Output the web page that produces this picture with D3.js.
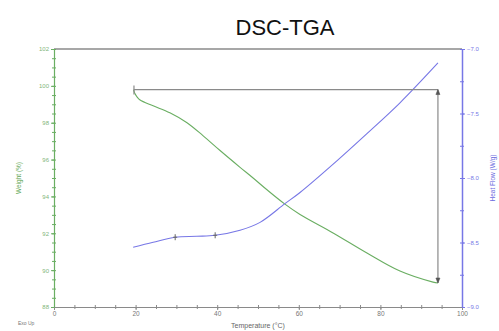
<!DOCTYPE html>
<html>
<head>
<meta charset="utf-8">
<script src="https://cdn.jsdelivr.net/npm/d3@7"></script>
<style>
  body { margin: 0; background: #fff; }
  svg { font-family: "Liberation Sans", Arial, sans-serif; }
</style>
</head>
<body>
<div id="chart"></div>
<script>
// weight curve (TGA)
var weightTemp = [19.5, 19.8, 20.3, 21.1, 24.3, 28.4, 32.6, 36.5, 40.7, 45.6, 48.8, 52.2, 56.6, 60.3, 68.4, 76.7, 84.8, 92.9, 94.1];
var weightVal  = [99.8, 99.6, 99.42, 99.23, 98.92, 98.54, 98.0, 97.3, 96.49, 95.58, 95.0, 94.36, 93.58, 93.02, 92.02, 90.93, 89.95, 89.35, 89.3];

// heat flow curve (DSC)
var heatTemp = [19.4, 24.3, 29.7, 35.0, 39.5, 45.6, 50.5, 56.6, 60.3, 69.4, 76.7, 84.8, 94.1];
var heatVal  = [-8.537, -8.498, -8.459, -8.452, -8.444, -8.405, -8.344, -8.199, -8.112, -7.865, -7.656, -7.417, -7.108];

// markers on heat flow curve
var markTemp = [29.7, 39.5];

// weight-change annotation
var stepStart = 19.6, stepEnd = 94.1, stepTop = 99.8, stepBottom = 89.3;

var xTicks = [0, 20, 40, 60, 80, 100];
var leftTicks = [88, 90, 92, 94, 96, 98, 100, 102];
var rightTicks = [-9.0, -8.5, -8.0, -7.5, -7.0];

var svgWidth = 499, svgHeight = 331;
var margin = { top: 49, right: 37, bottom: 24, left: 54 };
var chartWidth = svgWidth - margin.left - margin.right;
var chartHeight = svgHeight - margin.top - margin.bottom;

var svg = d3.select("#chart").append("svg")
    .attr("width", svgWidth)
    .attr("height", svgHeight);

var g = svg.append("g")
    .attr("transform", `translate(${margin.left},${margin.top})`);

var x = d3.scaleLinear().domain([0, 100]).range([0, chartWidth]);
var yL = d3.scaleLinear().domain([88, 102]).range([chartHeight, 0]);
var yR = d3.scaleLinear().domain([-9, -7]).range([chartHeight, 0]);

var green = "#6aae62", blue = "#7777e6", gray = "#8a8a8a";

// top border
g.append("line")
    .attr("x1", 0).attr("x2", chartWidth)
    .attr("y1", 0).attr("y2", 0)
    .attr("stroke", gray).attr("stroke-width", 1.5);

// minor ticks
g.append("g")
    .attr("transform", `translate(0,${chartHeight})`)
    .call(d3.axisBottom(x).tickValues(d3.range(0, 101, 5)).tickSize(2).tickFormat(""))
    .call(a => a.select(".domain").remove())
    .selectAll("line").attr("stroke", gray).attr("y1", -2);
g.append("g")
    .call(d3.axisLeft(yL).tickValues(d3.range(88, 102.01, 0.5)).tickSize(2).tickFormat(""))
    .call(a => a.select(".domain").remove())
    .selectAll("line").attr("stroke", green).attr("x1", 2);
g.append("g")
    .attr("transform", `translate(${chartWidth},0)`)
    .call(d3.axisRight(yR).tickValues(d3.range(-9, -6.99, 0.25)).tickSize(2).tickFormat(""))
    .call(a => a.select(".domain").remove())
    .selectAll("line").attr("stroke", blue).attr("x1", -2);

// bottom axis
var xAxis = g.append("g")
    .attr("transform", `translate(0,${chartHeight})`)
    .call(d3.axisBottom(x).tickValues(xTicks).tickSize(3).tickSizeOuter(0).tickPadding(1));
xAxis.select(".domain").attr("stroke", gray).attr("stroke-width", 1.2);
xAxis.selectAll("line").attr("stroke", gray);
xAxis.selectAll("text").attr("fill", "#777").style("font-size", "6.5px");

// left axis
var lAxis = g.append("g")
    .call(d3.axisLeft(yL).tickValues(leftTicks).tickSize(3).tickSizeOuter(0).tickPadding(2));
lAxis.select(".domain").attr("stroke", green).attr("stroke-width", 1.2);
lAxis.selectAll("line").attr("stroke", green);
lAxis.selectAll("text").attr("fill", "#7fb57a").style("font-size", "6px");

// right axis
var rAxis = g.append("g")
    .attr("transform", `translate(${chartWidth},0)`)
    .call(d3.axisRight(yR).tickValues(rightTicks).tickSize(3).tickSizeOuter(0).tickPadding(2).tickFormat(d3.format(".1f")));
rAxis.select(".domain").attr("stroke", blue).attr("stroke-width", 1.5);
rAxis.selectAll("line").attr("stroke", blue);
rAxis.selectAll("text").attr("fill", "#7777e6").style("font-size", "6px");

// curves
var weightData = weightTemp.map((t, i) => [t, weightVal[i]]);
var heatData = heatTemp.map((t, i) => [t, heatVal[i]]);

g.append("path")
    .datum(weightData)
    .attr("fill", "none")
    .attr("stroke", green)
    .attr("stroke-width", 1.1)
    .attr("d", d3.line().x(d => x(d[0])).y(d => yL(d[1])).curve(d3.curveCatmullRom.alpha(0.5)));

g.append("path")
    .datum(heatData)
    .attr("fill", "none")
    .attr("stroke", blue)
    .attr("stroke-width", 1.1)
    .attr("d", d3.line().x(d => x(d[0])).y(d => yR(d[1])).curve(d3.curveCatmullRom.alpha(0.5)));

// markers on heat flow
var heatLine = d3.scaleLinear().domain(heatTemp).range(heatVal);
markTemp.forEach(function(t) {
  var cx = x(t), cy = yR(heatLine(t));
  g.append("line").attr("x1", cx).attr("x2", cx).attr("y1", cy - 3).attr("y2", cy + 3)
    .attr("stroke", "#666").attr("stroke-width", 1);
  g.append("line").attr("x1", cx - 2).attr("x2", cx + 2).attr("y1", cy).attr("y2", cy)
    .attr("stroke", "#666").attr("stroke-width", 1);
});

// weight-change annotation
var ann = g.append("g").attr("stroke", gray).attr("stroke-width", 1.2).attr("fill", "none");
ann.append("line")
    .attr("x1", x(stepStart)).attr("x2", x(stepEnd))
    .attr("y1", yL(stepTop)).attr("y2", yL(stepTop));
ann.append("line")
    .attr("x1", x(stepStart)).attr("x2", x(stepStart))
    .attr("y1", yL(stepTop) - 4).attr("y2", yL(stepTop) + 5);
ann.append("line")
    .attr("x1", x(stepEnd)).attr("x2", x(stepEnd))
    .attr("y1", yL(stepTop)).attr("y2", yL(stepBottom));
// arrow heads
var ax = x(stepEnd), at = yL(stepTop), ab = yL(stepBottom);
g.append("path")
    .attr("d", `M${ax - 2},${at + 5}L${ax},${at}L${ax + 2},${at + 5}Z`)
    .attr("fill", "#555").attr("stroke", "#555").attr("stroke-width", 0.6);
g.append("path")
    .attr("d", `M${ax - 2},${ab - 5}L${ax},${ab}L${ax + 2},${ab - 5}Z`)
    .attr("fill", "#555").attr("stroke", "#555").attr("stroke-width", 0.6);

// titles
svg.append("text")
    .attr("x", 285).attr("y", 35)
    .attr("text-anchor", "middle")
    .style("font-size", "22px")
    .attr("fill", "#111")
    .text("DSC-TGA");

svg.append("text")
    .attr("x", margin.left + chartWidth / 2).attr("y", 328)
    .attr("text-anchor", "middle")
    .style("font-size", "7px")
    .attr("fill", "#666")
    .text("Temperature (°C)");

svg.append("text")
    .attr("transform", `translate(21,${margin.top + chartHeight / 2}) rotate(-90)`)
    .attr("text-anchor", "middle")
    .style("font-size", "6.5px")
    .attr("fill", "#5da552")
    .text("Weight (%)");

svg.append("text")
    .attr("transform", `translate(495,${margin.top + chartHeight / 2}) rotate(-90)`)
    .attr("text-anchor", "middle")
    .style("font-size", "6.5px")
    .attr("fill", "#6b6be0")
    .text("Heat Flow (W/g)");

svg.append("text")
    .attr("x", 18).attr("y", 325)
    .style("font-size", "5px")
    .attr("fill", "#777")
    .text("Exo Up");
</script>
</body>
</html>
